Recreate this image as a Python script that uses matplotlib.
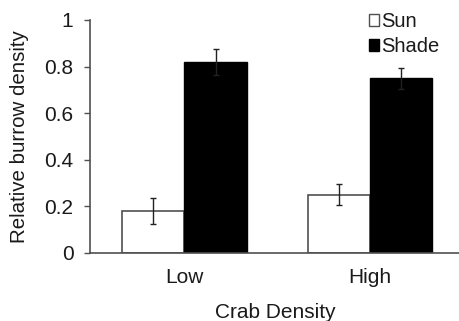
import numpy as np
import matplotlib.pyplot as plt
from matplotlib.patches import Patch

plt.rcParams['font.family'] = ['Liberation Sans', 'DejaVu Sans']

categories = ["Low", "High"]
sun = [0.18, 0.25]
sun_err = [0.056, 0.045]
shade = [0.82, 0.75]
shade_err = [0.057, 0.045]

fig = plt.figure(figsize=(4.6, 3.21), dpi=100)
ax = fig.add_axes([0.196, 0.212, 0.806, 0.726])

x = np.arange(len(categories))
w = 0.335
line_col = "#505050"
txt_col = "#1a1a1a"
ekw = dict(ecolor="#222222", elinewidth=1, capsize=2, capthick=1)

ax.bar(x - w / 2, sun, w, color="white", edgecolor=line_col, linewidth=1.2,
       yerr=sun_err, error_kw=ekw)
ax.bar(x + w / 2, shade, w, color="black", edgecolor="black", linewidth=1,
       yerr=shade_err, error_kw=ekw)

ax.set_xlim(-0.508, 1.49)
ax.set_ylim(0, 1)
ax.set_yticks([0, 0.2, 0.4, 0.6, 0.8, 1])
ax.set_yticklabels(["0", "0.2", "0.4", "0.6", "0.8", "1"])
ax.set_xticks(x)
ax.set_xticklabels(categories)
ax.tick_params(axis="x", length=0, pad=11, labelsize=15, labelcolor=txt_col)
ax.tick_params(axis="y", length=4, width=1, color=line_col, labelsize=15,
               pad=8, labelcolor=txt_col)

for s in ["top", "right"]:
    ax.spines[s].set_visible(False)
for s in ["left", "bottom"]:
    ax.spines[s].set_color(line_col)
    ax.spines[s].set_linewidth(1.2)

ax.set_xlabel("Crab Density", fontsize=15, labelpad=11, color=txt_col)
ax.set_ylabel("Relative burrow density", fontsize=14.8, labelpad=11, color=txt_col)

handles = [Patch(facecolor="white", edgecolor=line_col, label="Sun"),
           Patch(facecolor="black", edgecolor="black", label="Shade")]
fig.legend(handles=handles, loc="upper left", bbox_to_anchor=(0.802, 0.962),
           frameon=False, fontsize=14.5, handlelength=0.5, handleheight=0.5,
           handletextpad=0.12, labelspacing=0.3, borderaxespad=0, borderpad=0,
           labelcolor=txt_col)

fig.savefig("out.png", dpi=100)
